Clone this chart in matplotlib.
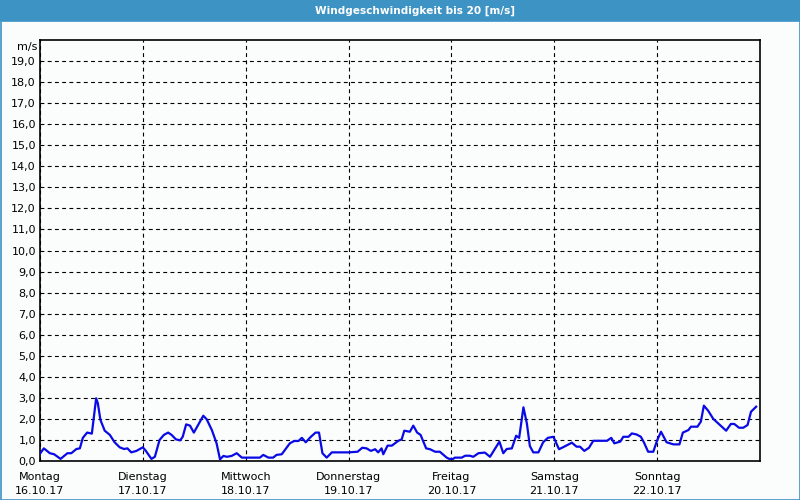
import matplotlib
matplotlib.use("Agg")
import matplotlib.pyplot as plt
from matplotlib.patches import Rectangle

# wind speed in m/s, time in hours from Monday 00:00
hours = [0, 0.9, 2.3, 3.3, 4.8, 6.4, 7.3, 8.5, 9.3, 10.0, 11.0, 12.1, 13.1, 13.5,
         14.1, 15.1, 16.3, 17.4, 18.6, 19.6, 20.4, 21.3, 22.5, 24.0, 24.7, 26.0,
         26.8, 27.9, 28.9, 29.9, 30.7, 31.7, 32.7, 33.3, 34.1, 35.0, 35.9, 38.1,
         38.9, 40.1, 41.2, 42.0, 42.8, 43.6, 44.7, 45.9, 47.1, 51.3, 52.1, 53.3,
         54.4, 55.2, 56.4, 58.3, 59.3, 60.3, 61.1, 62.0, 63.2, 64.3, 65.1, 65.9,
         66.9, 68.1, 71.9, 74.1, 75.2, 76.2, 77.2, 78.2, 78.9, 79.7, 80.1, 81.1,
         82.1, 83.6, 84.4, 85.0, 86.3, 87.1, 88.0, 88.8, 90.1, 91.0, 92.2, 93.3,
         94.9, 95.5, 96.4, 96.8, 98.4, 99.2, 100.3, 101.1, 102.3, 103.8, 105.0,
         107.2, 108.1, 108.9, 110.1, 111.1, 111.8, 112.8, 113.2, 113.6, 114.3,
         115.1, 116.3, 117.4, 118.5, 119.8, 121.1, 122.3, 124.1, 125.2, 126.0,
         127.0, 128.1, 129.1, 132.3, 133.3, 134.0, 135.4, 136.1, 137.3, 138.1,
         139.2, 140.2, 140.9, 141.9, 143.1, 144.0, 144.9, 146.2, 147.8, 149.2,
         150.0, 151.3, 151.9, 153.4, 154.2, 154.9, 155.9, 157.1, 160.1, 161.2,
         162.0, 163.1, 164.1, 165.1, 165.9, 167.1]
speed = [0.35, 0.6, 0.37, 0.32, 0.1, 0.37, 0.37, 0.57, 0.6, 1.1, 1.35, 1.3, 2.98, 2.74,
         1.95, 1.44, 1.24, 0.89, 0.65, 0.57, 0.6, 0.41, 0.48, 0.65, 0.48, 0.1,
         0.2, 1.0, 1.24, 1.35, 1.24, 1.03, 0.98, 1.15, 1.74, 1.68, 1.35, 2.15,
         1.98, 1.47, 0.84, 0.08, 0.24, 0.2, 0.24, 0.37, 0.16, 0.16, 0.29, 0.16,
         0.16, 0.29, 0.32, 0.84, 0.95, 0.95, 1.1, 0.89, 1.15, 1.35, 1.35, 0.37,
         0.16, 0.41, 0.41, 0.44, 0.63, 0.6, 0.48, 0.56, 0.41, 0.6, 0.32, 0.73,
         0.73, 0.96, 1.03, 1.44, 1.39, 1.68, 1.35, 1.24, 0.6, 0.56, 0.44, 0.44,
         0.16, 0.1, 0.1, 0.16, 0.16, 0.25, 0.25, 0.2, 0.37, 0.4, 0.2,
         0.92, 0.37, 0.57, 0.6, 1.2, 1.1, 2.55, 2.18, 1.79, 0.71,
         0.41, 0.41, 0.89, 1.1, 1.15, 0.56, 0.68, 0.87, 0.68, 0.68,
         0.48, 0.63, 0.96, 0.96, 1.1, 0.84, 0.92, 1.15, 1.15, 1.31,
         1.26, 1.15, 0.89, 0.44, 0.44, 0.98, 1.39, 0.89, 0.79, 0.79,
         1.35, 1.47, 1.63, 1.63, 1.87, 2.63, 2.39, 2.0, 1.44, 1.76,
         1.76, 1.58, 1.58, 1.71, 2.34, 2.58]

days = ["Montag", "Dienstag", "Mittwoch", "Donnerstag", "Freitag", "Samstag", "Sonntag"]
dates = ["16.10.17", "17.10.17", "18.10.17", "19.10.17", "20.10.17", "21.10.17", "22.10.17"]
y_ticks = list(range(0, 20))

title = "Windgeschwindigkeit bis 20 [m/s]"
unit = "m/s"

bg = "#fafdfb"
bar = "#3d93c4"

fig = plt.figure(figsize=(8, 5), dpi=100, facecolor=bg)

# title bar and frame
fig.patches.append(Rectangle((0, 1 - 21 / 500), 1, 21 / 500, transform=fig.transFigure,
                             facecolor=bar, edgecolor="none", zorder=0))
fig.patches.append(Rectangle((0.5 / 800, 0.5 / 500), 799 / 800, 1 - 21 / 500, transform=fig.transFigure,
                             facecolor="none", edgecolor=bar, lw=1.2, zorder=0))
fig.text(415 / 800, 1 - 10.5 / 500, title, color="white", fontsize=7.6, fontweight="bold",
         ha="center", va="center")

ax = fig.add_axes([40 / 800, 39 / 500, 720 / 800, 421 / 500])
ax.set_facecolor(bg)
ax.plot(hours, speed, color="#0a0ae6", lw=1.6, zorder=3)

ax.set_xlim(0, 168)
ax.set_ylim(0, 20)
ax.set_xticks([24 * i for i in range(7)])
ax.set_xticklabels([d + "\n" + t for d, t in zip(days, dates)], fontsize=8, linespacing=1.5)
ax.set_yticks(y_ticks)
ax.set_yticklabels(["%d,0" % v for v in y_ticks], fontsize=8)
ax.tick_params(axis="both", length=0)
ax.tick_params(axis="x", pad=8)
ax.tick_params(axis="y", pad=3)
ax.grid(True, color="black", lw=0.8, linestyle=(0, (3.5, 3)))
for s in ax.spines.values():
    s.set_linewidth(1.2)

ax.text(-0.004, 19.68, unit, transform=ax.get_yaxis_transform(), fontsize=8, ha="right", va="center")

fig.savefig("out.png", dpi=100, facecolor=bg)
